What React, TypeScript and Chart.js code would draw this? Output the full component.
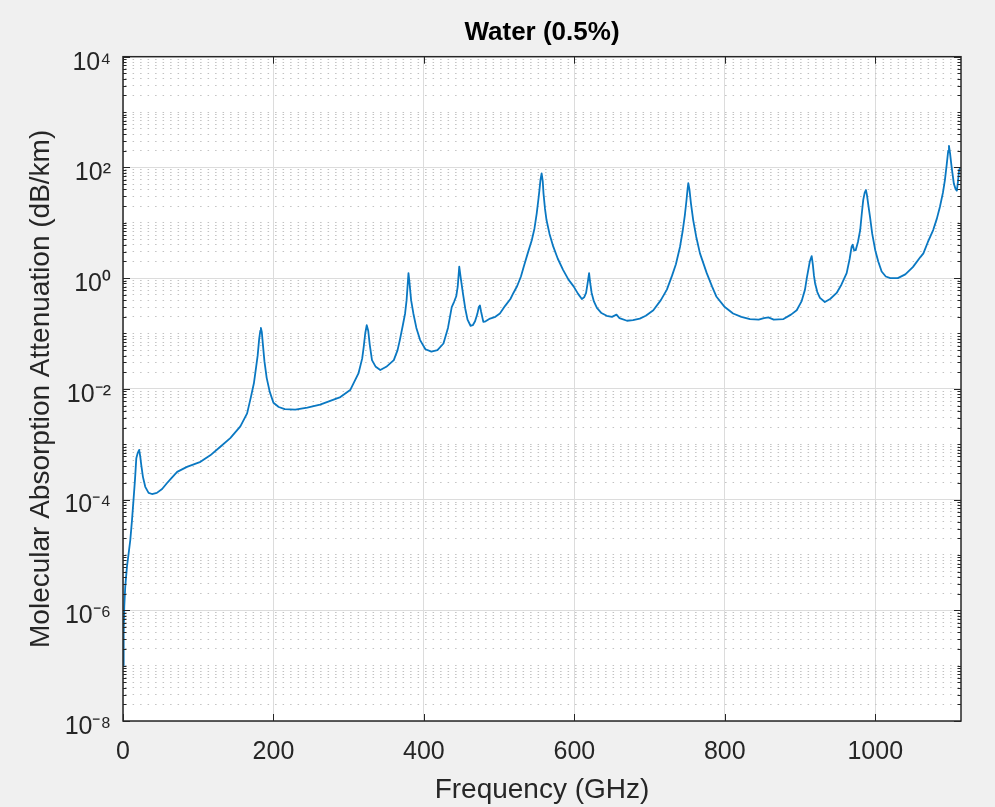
import React, { useEffect, useRef } from "react";
import { Chart, registerables } from "chart.js";

Chart.register(...registerables);

// ---- Data ----
const chartTitle = "Water (0.5%)";
const xAxisTitle = "Frequency (GHz)";
const yAxisTitle = "Molecular Absorption Attenuation (dB/km)";

const freqGHz: number[] = [
  0, 0.9, 1.7, 3, 5.3, 7.5, 9.7, 12, 14, 15.9, 17.7, 19.5, 21.5, 23, 24.3, 26.5, 29.6, 34, 38.5, 45,
  52, 58, 65, 72, 85, 103, 116, 129, 142.6, 156, 165, 170, 174, 177, 179, 181, 182.5, 183.3, 184.5, 186,
  188, 191, 195, 200, 207, 215, 229, 245, 262, 289, 302, 313, 318, 320, 322, 324, 326, 328, 331, 336,
  342, 350, 360, 365, 368, 372, 375, 377, 379.5, 381, 383, 386, 390, 395, 402, 410, 418, 426, 432, 437,
  440, 443, 445, 447, 449, 452, 455, 458, 462, 465, 468, 471, 473, 474.5, 476, 479, 482, 488, 495, 501,
  508, 515, 519, 524, 529, 533, 538, 543.5, 547, 550, 552, 553.6, 555, 556.5, 558, 559, 561, 563, 567, 572,
  578, 585, 592, 599, 605, 610, 613, 615.6, 617.5, 619.6, 621, 623, 626, 630, 636, 643, 650, 656, 660, 670,
  678, 687, 695, 705, 715, 723, 730, 735, 740.5, 744, 747, 749, 750.5, 751.5, 753, 755, 758, 762, 767, 776,
  783, 789, 800, 811, 822, 833.5, 845, 852, 858, 865, 878, 888, 895.6, 902, 906.6, 909, 911, 913, 915.5, 917,
  918.5, 920, 923, 926.5, 933, 940, 948.7, 955, 962, 966, 968.6, 970, 972, 974, 977, 980, 982, 984, 986, 987.6,
  989, 991, 993, 996, 1000, 1004, 1008.5, 1014, 1020, 1030, 1040, 1050, 1060, 1064, 1070, 1077, 1082, 1086, 1090, 1092.6,
  1095, 1097, 1098, 1099.5, 1101.5, 1104.5, 1107, 1108.5, 1110, 1111.5, 1113,
];

const attenuationDbPerKm: number[] = [
  1.0e-7, 3.8e-7, 1.17e-6, 2.7e-6, 6.2e-6, 1.07e-5, 1.86e-5, 4.3e-5, 1.0e-4, 2.24e-4, 5.6e-4, 6.9e-4, 7.9e-4, 5.9e-4, 4.2e-4, 2.57e-4, 1.7e-4, 1.32e-4, 1.26e-4, 1.32e-4,
  1.55e-4, 1.95e-4, 2.5e-4, 3.16e-4, 3.9e-4, 4.8e-4, 6.3e-4, 8.9e-4, 1.29e-3, 2.1e-3, 3.6e-3, 7.1e-3, 1.26e-2, 2.5e-2, 3.98e-2, 7.9e-2, 0.112, 0.126, 0.107, 0.063,
  0.0316, 0.0158, 8.9e-3, 5.6e-3, 4.7e-3, 4.3e-3, 4.2e-3, 4.6e-3, 5.2e-3, 7.1e-3, 9.5e-3, 1.9e-2, 3.55e-2, 5.75e-2, 0.1, 0.141, 0.112, 0.063, 0.033, 0.025,
  0.0219, 0.025, 0.033, 0.05, 0.076, 0.141, 0.23, 0.4, 1.23, 0.79, 0.4, 0.23, 0.126, 0.076, 0.052, 0.047, 0.05, 0.066, 0.126, 0.3,
  0.37, 0.47, 0.71, 1.62, 1.0, 0.52, 0.28, 0.178, 0.138, 0.141, 0.166, 0.224, 0.3, 0.32, 0.25, 0.162, 0.166, 0.186, 0.2, 0.23,
  0.316, 0.42, 0.54, 0.72, 1.07, 1.66, 2.8, 4.9, 7.9, 14.8, 25, 39, 60, 78, 56, 34, 17.8, 11.2, 6.3, 3.7,
  2.24, 1.41, 0.95, 0.71, 0.52, 0.42, 0.45, 0.54, 0.79, 1.23, 0.83, 0.54, 0.38, 0.29, 0.234, 0.209, 0.2, 0.219, 0.19, 0.17,
  0.174, 0.186, 0.209, 0.263, 0.4, 0.62, 1.12, 1.78, 3.7, 7.1, 14.1, 25, 40, 52, 40, 22.4, 11.2, 5.6, 2.8, 1.23,
  0.71, 0.46, 0.3, 0.23, 0.2, 0.182, 0.178, 0.19, 0.195, 0.178, 0.182, 0.219, 0.263, 0.38, 0.62, 1.0, 1.41, 2.0, 2.5, 1.78,
  1.12, 0.81, 0.56, 0.44, 0.37, 0.42, 0.54, 0.76, 1.23, 2.24, 3.7, 4.0, 3.16, 3.2, 4.5, 7.4, 14.1, 25.7, 35, 39,
  31.6, 20, 12.9, 6.3, 3.2, 2.0, 1.32, 1.07, 1.0, 1.0, 1.17, 1.58, 2.4, 2.8, 4.5, 7.4, 12, 19.5, 35, 59,
  112, 200, 245, 178, 102, 51, 40, 38, 56, 89, 100,
];

const xMin = 0;
const xMax = 1114;
const xTickValues: number[] = [0, 200, 400, 600, 800, 1000];
const xTickLabels: string[] = ["0", "200", "400", "600", "800", "1000"];

const yMin = 1e-8;
const yMax = 1e4;
const yMajorTickValues: number[] = [1e-8, 1e-6, 1e-4, 1e-2, 1, 1e2, 1e4];
const yMajorTickLabels: string[] = ["10\u207B\u2078", "10\u207B\u2076", "10\u207B\u2074", "10\u207B\u00B2", "10\u2070", "10\u00B2", "10\u2074"];

// all log ticks (1..9 x 10^n), used for the minor dotted grid and inner tick marks
const yAllTickValues: number[] = (() => {
  const out: number[] = [];
  for (let e = -8; e <= 3; e++) {
    for (let k = 1; k <= 9; k++) out.push(parseFloat((k * Math.pow(10, e)).toPrecision(6)));
  }
  out.push(1e4);
  return out;
})();

const FONT = "'Liberation Sans', Arial, Helvetica, sans-serif";

function majorIndex(v: number): number {
  return yMajorTickValues.findIndex((m) => Math.abs(v - m) <= m * 1e-6);
}

const plotBackgroundPlugin = {
  id: "plotBackground",
  beforeDraw(chart: any) {
    const { ctx, chartArea: a } = chart;
    ctx.save();
    ctx.fillStyle = "#ffffff";
    ctx.fillRect(a.left, a.top, a.right - a.left, a.bottom - a.top);
    ctx.restore();
  },
};

const framePlugin = {
  id: "matlabFrame",
  afterDatasetsDraw(chart: any) {
    const { ctx, chartArea: a, scales } = chart;
    const xs = scales.x;
    const ys = scales.y;
    ctx.save();
    ctx.strokeStyle = "#262626";
    ctx.lineWidth = 1;
    ctx.beginPath();
    for (const v of yAllTickValues) {
      const py = Math.round(ys.getPixelForValue(v)) + 0.5;
      const len = majorIndex(v) >= 0 ? 7 : 3.5;
      ctx.moveTo(a.left, py);
      ctx.lineTo(a.left + len, py);
      ctx.moveTo(a.right, py);
      ctx.lineTo(a.right - len, py);
    }
    for (const v of xTickValues) {
      const px = Math.round(xs.getPixelForValue(v)) + 0.5;
      ctx.moveTo(px, a.bottom);
      ctx.lineTo(px, a.bottom - 7);
      ctx.moveTo(px, a.top);
      ctx.lineTo(px, a.top + 7);
    }
    ctx.stroke();
    ctx.lineWidth = 1.5;
    ctx.strokeRect(a.left, a.top, a.right - a.left, a.bottom - a.top);
    ctx.restore();
  },
};

export default function App() {
  const canvasRef = useRef<HTMLCanvasElement | null>(null);

  useEffect(() => {
    const canvas = canvasRef.current;
    if (!canvas) return;
    Chart.defaults.font.family = FONT;

    const points = freqGHz.map((f, i) => ({ x: f, y: attenuationDbPerKm[i] }));

    const chart = new Chart(canvas, {
      type: "line",
      data: {
        datasets: [
          {
            data: points,
            borderColor: "#0a78c2",
            borderWidth: 1.8,
            pointRadius: 0,
            tension: 0,
            fill: false,
            borderJoinStyle: "round",
          },
        ],
      },
      options: {
        animation: false,
        responsive: false,
        devicePixelRatio: 1,
        layout: { padding: { left: 0, right: 34, top: 0, bottom: 0 } },
        plugins: {
          legend: { display: false },
          tooltip: { enabled: false },
          title: {
            display: true,
            text: chartTitle,
            fullSize: false,
            color: "#000000",
            font: { family: FONT, size: 26, weight: "bold" },
            padding: { top: 17.5, bottom: 8 },
          },
        },
        scales: {
          x: {
            type: "linear",
            min: xMin,
            max: xMax,
            afterBuildTicks: (scale: any) => {
              scale.ticks = xTickValues.map((v) => ({ value: v }));
            },
            afterFit: (scale: any) => {
              scale.height = 86;
            },
            ticks: {
              autoSkip: false,
              maxRotation: 0,
              color: "#262626",
              font: { family: FONT, size: 25 },
              padding: 16,
              callback: (value: any) => {
                const i = xTickValues.indexOf(Number(value));
                return i >= 0 ? xTickLabels[i] : "";
              },
            },
            grid: { color: "#dcdcdc", lineWidth: 1, drawTicks: false },
            border: { display: false },
            title: {
              display: true,
              text: xAxisTitle,
              color: "#262626",
              font: { family: FONT, size: 28 },
              padding: { top: 0, bottom: 0 },
            },
          },
          y: {
            type: "logarithmic",
            min: yMin,
            max: yMax,
            afterBuildTicks: (scale: any) => {
              scale.ticks = yAllTickValues.map((v) => ({ value: v }));
            },
            afterFit: (scale: any) => {
              scale.width = 123;
            },
            ticks: {
              autoSkip: false,
              color: "#262626",
              font: { family: FONT, size: 25 },
              padding: 12,
              labelOffset: 6,
              callback: (value: any) => {
                const i = majorIndex(Number(value));
                return i >= 0 ? yMajorTickLabels[i] : "";
              },
            },
            grid: {
              drawTicks: false,
              lineWidth: 1,
              color: (ctx: any) => (majorIndex(ctx.tick ? ctx.tick.value : 0) >= 0 ? "#dcdcdc" : "#c2c2c2"),
            },
            border: {
              display: false,
              dash: (ctx: any) => (majorIndex(ctx.tick ? ctx.tick.value : 0) >= 0 ? [] : [1.5, 6]),
              dashOffset: 5.4,
            },
            title: {
              display: true,
              text: yAxisTitle,
              color: "#262626",
              font: { family: FONT, size: 28 },
              padding: { top: 24, bottom: 0 },
            },
          },
        },
      },
      plugins: [plotBackgroundPlugin, framePlugin],
    } as any);

    return () => {
      chart.destroy();
    };
  }, []);

  return (
    <div
      style={{
        position: "fixed",
        left: 0,
        top: 0,
        width: 995,
        height: 807,
        background: "#f0f0f0",
      }}
    >
      <canvas ref={canvasRef} width={995} height={807} style={{ display: "block" }} />
    </div>
  );
}
